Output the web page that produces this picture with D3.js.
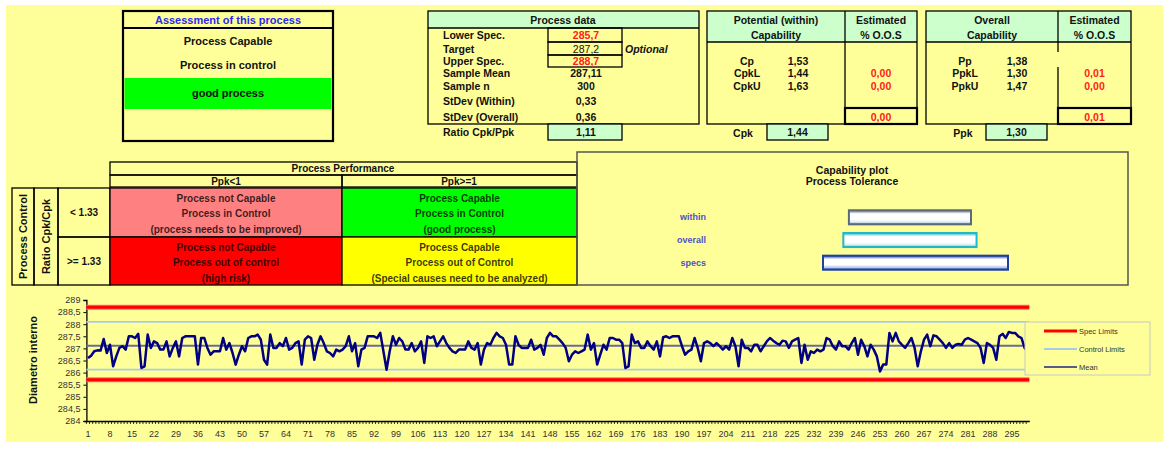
<!DOCTYPE html>
<html><head><meta charset="utf-8">
<script src="https://cdn.jsdelivr.net/npm/d3@7"></script>
<style>body{margin:0;background:#fff}svg{display:block;font-family:"Liberation Sans",Arial,sans-serif}</style>
</head><body><svg id="c" width="1169" height="450"></svg>
<script>
// ---------------- DATA ----------------
const sampleNo = d3.range(1, 301);
const diameter = [
286.60,286.70,286.88,286.92,286.91,287.39,286.81,287.15,286.26,286.67,
287.02,287.09,286.95,287.50,287.50,287.43,287.60,286.19,286.26,287.57,
287.02,287.29,287.22,286.95,286.95,287.29,286.67,287.02,287.29,286.67,
287.43,287.50,287.50,287.50,287.50,286.33,287.43,287.43,287.02,286.74,
286.88,286.88,286.88,287.43,286.95,287.22,286.81,286.33,286.74,287.09,
286.88,287.43,287.50,287.50,287.57,287.36,286.53,286.33,287.57,287.02,
287.02,287.22,287.09,287.43,286.95,287.02,287.22,287.29,286.33,287.36,
287.50,287.43,286.53,287.15,287.50,287.22,286.88,286.81,286.67,286.95,
286.88,286.95,287.09,287.50,286.88,287.22,286.26,286.95,287.02,287.50,
287.50,287.50,287.43,287.64,286.88,286.12,286.88,287.50,287.15,287.43,
287.29,286.95,286.95,287.22,286.88,287.02,287.29,286.40,287.50,287.43,
287.50,287.09,287.29,287.50,287.22,287.02,286.88,286.81,286.95,286.95,
286.95,287.29,287.02,286.95,287.22,286.33,286.95,287.22,287.15,287.43,
287.64,287.50,287.43,287.15,286.33,286.33,287.50,287.15,287.02,287.02,
287.02,287.36,286.95,287.02,287.15,286.74,287.43,287.64,287.50,287.50,
287.36,287.22,287.02,286.47,286.74,286.88,286.81,286.88,286.95,287.57,
286.95,287.22,286.33,286.74,287.15,286.95,287.43,287.43,287.36,287.36,
287.22,286.19,286.26,287.57,287.22,287.29,287.02,287.02,287.29,287.09,
286.95,287.29,286.67,287.46,287.50,287.43,287.50,287.50,287.50,287.09,
286.74,286.88,286.95,287.43,287.02,286.47,287.22,287.29,287.22,287.09,
287.22,287.09,286.95,287.09,286.95,287.43,287.09,286.26,287.36,287.02,
287.02,286.88,287.15,287.15,286.88,287.09,287.29,287.43,287.32,287.22,
287.15,287.32,287.29,287.02,287.29,287.36,287.43,286.40,287.15,286.53,
286.88,286.81,286.95,286.88,286.95,287.43,287.36,287.09,286.95,287.29,
287.09,287.09,286.95,287.22,287.43,286.74,287.36,287.09,286.67,287.15,
286.95,286.67,286.05,286.33,286.33,287.64,287.29,287.64,287.29,287.15,
287.02,287.22,287.43,287.02,286.26,286.88,287.36,287.57,287.09,287.54,
287.50,287.36,287.22,287.02,287.22,287.02,287.15,287.18,287.15,287.36,
287.43,287.36,287.29,287.22,287.02,286.40,287.22,287.15,287.02,286.53,
287.50,287.60,287.43,287.68,287.64,287.64,287.50,287.43,287.02,286.88];
const yTicks = [284, 284.5, 285, 285.5, 286, 286.5, 287, 287.5, 288, 288.5, 289];
const xTickLabels = sampleNo.filter(d => (d - 1) % 7 === 0);
const specLimits = [285.7, 288.7];
const processMean = 287.11;
const controlLimits = [286.12, 288.10];
const legendNames = ["Spec Limits", "Control Limits", "Mean"];

const assessmentTitle = "Assessment of this process";
const assessmentLines = ["Process Capable", "Process in control", "good process"];

const processLabels = ["Lower Spec.", "Target", "Upper Spec.", "Sample Mean", "Sample n", "StDev (Within)", "StDev (Overall)"];
const processValues = ["285,7", "287,2", "288,7", "287,11", "300", "0,33", "0,36"];
const ratioLabel = "Ratio Cpk/Ppk", ratioValue = "1,11";

const withinLabels = ["Cp", "CpkL", "CpkU"];
const withinValues = ["1,53", "1,44", "1,63"];
const withinOOS = ["", "0,00", "0,00"];
const withinOOSTotal = "0,00";
const cpkValue = "1,44";

const overallLabels = ["Pp", "PpkL", "PpkU"];
const overallValues = ["1,38", "1,30", "1,47"];
const overallOOS = ["", "0,01", "0,00"];
const overallOOSTotal = "0,01";
const ppkValue = "1,30";

const perfColumns = ["Ppk<1", "Ppk>=1"];
const ratioRows = ["< 1.33", ">= 1.33"];
const matrixText = [
  [["Process not Capable", "Process in Control", "(process needs to be improved)"],
   ["Process Capable", "Process in Control", "(good process)"]],
  [["Process not Capable", "Process out of control", "(high risk)"],
   ["Process Capable", "Process out of Control", "(Special causes need to be analyzed)"]]
];
const matrixColors = [["#FF8080", "#00FF00"], ["#FF0000", "#FFFF00"]];

const capLabels = ["within", "overall", "specs"];
const capLow = [286.12, 286.03, 285.7];
const capHigh = [288.10, 288.19, 288.7];
const capColors = ["#5a6a7a", "#20B8C8", "#2040A0"];

// ---------------- DRAW ----------------
const svg = d3.select("#c");
const YEL = "#FFFF99", LG = "#CCFFCC";
svg.append("rect").attr("x", 6).attr("y", 5).attr("width", 1157).attr("height", 437).attr("fill", YEL);

function txt(x, y, s, o = {}) {
  return svg.append("text").attr("x", x).attr("y", y).text(s)
    .attr("dominant-baseline", "central")
    .attr("text-anchor", o.anchor || "middle")
    .attr("font-size", o.size || 10.5)
    .attr("font-weight", o.weight || "bold")
    .attr("font-style", o.style || "normal")
    .attr("fill", o.fill || "#111");
}
function box(x, y, w, h, o = {}) {
  return svg.append("rect").attr("x", x).attr("y", y).attr("width", w).attr("height", h)
    .attr("fill", o.fill || "none").attr("stroke", o.stroke || "#000").attr("stroke-width", o.sw == null ? 1.3 : o.sw);
}
function line(x1, y1, x2, y2, sw = 1.3, c = "#000") {
  svg.append("line").attr("x1", x1).attr("y1", y1).attr("x2", x2).attr("y2", y2).attr("stroke", c).attr("stroke-width", sw);
}

// Assessment box
box(123, 11, 210, 130, {sw: 2.2});
line(123, 28, 333, 28, 2.2);
txt(228, 20, assessmentTitle, {fill: "#2A2AF0", size: 11});
svg.append("rect").attr("x", 124.5).attr("y", 78).attr("width", 207).attr("height", 31).attr("fill", "#00FF00");
txt(228, 41, assessmentLines[0], {size: 11});
txt(228, 65, assessmentLines[1], {size: 11});
txt(228, 93, assessmentLines[2], {size: 11});

// Process data
svg.append("rect").attr("x", 428).attr("y", 11).attr("width", 271).attr("height", 17).attr("fill", LG);
box(428, 11, 271, 113);
line(428, 28, 699, 28);
txt(563, 20, "Process data");
const pdY = [35, 49, 61, 73, 86, 101, 117];
box(548, 28, 74, 14); box(548, 42, 74, 13); box(548, 55, 74, 12);
processLabels.forEach((l, i) => {
  txt(443, pdY[i], l, {anchor: "start"});
  txt(586, pdY[i], processValues[i], {fill: i === 0 || i === 2 ? "#FF2020" : "#111", weight: i === 1 ? "normal" : "bold"});
});
txt(625, 49, "Optional", {anchor: "start", style: "italic"});
txt(443, 132, ratioLabel, {anchor: "start"});
box(548, 124, 74, 16, {fill: LG});
txt(586, 132, ratioValue);

// Capability tables
function capTable(x0, xd, x1, head, labels, values, oos, total, lx, vx, kLabel, kVal, klx, kbx) {
  svg.append("rect").attr("x", x0).attr("y", 11).attr("width", x1 - x0).attr("height", 31).attr("fill", LG);
  box(x0, 11, x1 - x0, 113);
  line(x0, 42, x1, 42);
  txt((x0 + xd) / 2, 20, head[0]); txt((x0 + xd) / 2, 35, head[1]);
  txt((xd + x1) / 2, 20, "Estimated"); txt((xd + x1) / 2, 35, "% O.O.S");
  const ry = [61, 73, 86];
  labels.forEach((l, i) => {
    txt(lx, ry[i], l); txt(vx, ry[i], values[i]);
    if (oos[i]) txt((xd + x1) / 2, ry[i], oos[i], {fill: "#FF2020"});
  });
  box(xd, 108, x1 - xd, 16, {sw: 2.2});
  txt((xd + x1) / 2, 117, total, {fill: "#FF2020"});
  txt(klx, 133, kLabel);
  box(kbx, 124, 61, 16, {fill: LG});
  txt(kbx + 30.5, 132, kVal);
}
capTable(707, 845, 917, ["Potential (within)", "Capability"], withinLabels, withinValues, withinOOS, withinOOSTotal, 747, 798, "Cpk", cpkValue, 743, 767);
line(845, 11, 845, 124);
capTable(926, 1058, 1131, ["Overall", "Capability"], overallLabels, overallValues, overallOOS, overallOOSTotal, 965, 1017, "Ppk", ppkValue, 963, 986);
line(1058, 11, 1058, 52); line(1058, 67, 1058, 124);

// Process Performance matrix
box(110, 162, 467, 13);
txt(343, 168.5, "Process Performance", {size: 10});
box(110, 175, 232, 12); box(342, 175, 235, 12);
txt(226, 181, perfColumns[0], {size: 10}); txt(459, 181, perfColumns[1], {size: 10});
const mRows = [188, 237], mH = [49, 48], mCols = [110, 342], mW = [232, 235];
mRows.forEach((ry, r) => {
  box(58, ry, 52, mH[r]);
  txt(84, ry + mH[r] / 2, ratioRows[r], {size: 10});
  mCols.forEach((cx, c) => {
    box(cx, ry, mW[c], mH[r], {fill: matrixColors[r][c]});
    matrixText[r][c].forEach((t, k) => txt(cx + mW[c] / 2, ry + 10 + k * 15.5, t, {size: 10, fill: "rgba(0,0,0,0.78)"}));
  });
});
box(12, 188, 22, 97); box(34, 188, 24, 97);
svg.append("text").attr("transform", "translate(23,236.5) rotate(-90)").attr("text-anchor", "middle")
  .attr("dominant-baseline", "central").attr("font-size", 11).attr("font-weight", "bold").attr("fill", "#111").text("Process Control");
svg.append("text").attr("transform", "translate(46,236.5) rotate(-90)").attr("text-anchor", "middle")
  .attr("dominant-baseline", "central").attr("font-size", 11).attr("font-weight", "bold").attr("fill", "#111").text("Ratio Cpk/Cpk");

// Capability plot
box(577, 152, 551, 133, {stroke: "#555", sw: 1.5});
txt(852, 170, "Capability plot", {size: 10.5});
txt(852, 181, "Process Tolerance", {size: 10.5});
const xCap = d3.scaleLinear().domain([specLimits[0], specLimits[1]]).range([823, 1008]);
const capY = d3.scaleBand().domain(capLabels).range([208, 272]).paddingInner(0.38).paddingOuter(0.1);
const defs = svg.append("defs");
capColors.forEach((c, i) => {
  const g = defs.append("linearGradient").attr("id", "g" + i).attr("x1", 0).attr("y1", 0).attr("x2", 0).attr("y2", 1);
  g.append("stop").attr("offset", "0%").attr("stop-color", c);
  g.append("stop").attr("offset", "25%").attr("stop-color", "#fff");
  g.append("stop").attr("offset", "65%").attr("stop-color", "#fff");
  g.append("stop").attr("offset", "85%").attr("stop-color", i === 2 ? "#AFC8F0" : "#ddeef5");
  g.append("stop").attr("offset", "100%").attr("stop-color", c);
});
capLabels.forEach((l, i) => {
  const y = capY(l), h = capY.bandwidth();
  svg.append("rect").attr("x", xCap(capLow[i])).attr("y", y).attr("width", xCap(capHigh[i]) - xCap(capLow[i])).attr("height", h)
    .attr("fill", `url(#g${i})`).attr("stroke", capColors[i]).attr("stroke-width", 2);
  txt(706, y + h / 2, l, {anchor: "end", size: 9, fill: "#5050C8"});
});

// Line chart
const x = d3.scaleBand().domain(sampleNo).range([86.4, 1029.3]);
const y = d3.scaleLinear().domain([284, 289]).range([421, 300]);
const cx = d => x(d) + x.bandwidth() / 2;
const ax = svg.append("g").attr("transform", "translate(86.4,0)")
  .call(d3.axisLeft(y).tickValues(yTicks).tickSize(3).tickFormat(d => String(d).replace(".", ",")));
ax.selectAll("text").attr("font-size", 9).attr("fill", "#333").attr("font-family", "Liberation Sans, Arial");
ax.select(".domain").attr("stroke", "#000").attr("stroke-width", 1.3);
const bx = svg.append("g").attr("transform", "translate(0,421)")
  .call(d3.axisBottom(x).tickValues(xTickLabels).tickSize(0).tickPadding(10));
bx.selectAll("text").attr("font-size", 9).attr("fill", "#333").attr("font-family", "Liberation Sans, Arial");
bx.select(".domain").attr("stroke", "#000").attr("stroke-width", 1.3);
svg.append("g").selectAll("line").data(sampleNo).join("line")
  .attr("x1", d => x(d)).attr("x2", d => x(d)).attr("y1", 421).attr("y2", 424).attr("stroke", "#000").attr("stroke-width", 0.8);

svg.append("text").attr("transform", "translate(33,360) rotate(-90)").attr("text-anchor", "middle")
  .attr("dominant-baseline", "central").attr("font-size", 11).attr("font-weight", "bold").attr("fill", "#111").text("Diametro interno");

const x0 = 86.4, x1 = 1029.3;
specLimits.forEach(v => {
  svg.append("line").attr("x1", x0).attr("x2", x1).attr("y1", y(v)).attr("y2", y(v)).attr("stroke", "#FF7070").attr("stroke-width", 5);
  svg.append("line").attr("x1", x0).attr("x2", x1).attr("y1", y(v)).attr("y2", y(v)).attr("stroke", "#FF0000").attr("stroke-width", 3);
});
controlLimits.forEach(v => svg.append("line").attr("x1", x0).attr("x2", x1).attr("y1", y(v)).attr("y2", y(v)).attr("stroke", "#A8CCE8").attr("stroke-width", 1.8));
svg.append("line").attr("x1", x0).attr("x2", x1).attr("y1", y(processMean)).attr("y2", y(processMean)).attr("stroke", "#6A6A96").attr("stroke-width", 2.2);
svg.append("path").datum(diameter).attr("fill", "none").attr("stroke", "#000080").attr("stroke-width", 2.5)
  .attr("stroke-linejoin", "round")
  .attr("d", d3.line().x((d, i) => cx(sampleNo[i])).y(d => y(d)));

// Legend
box(1025, 322, 125, 53, {stroke: "#c8c8c8", sw: 1, fill: YEL});
const legStyles = [["#FF0000", 3], ["#A8CCE8", 1.8], ["#5A5A8A", 2]];
legendNames.forEach((n, i) => {
  const ly = 331 + i * 18;
  line(1044, ly, 1077, ly, legStyles[i][1], legStyles[i][0]);
  txt(1079, ly, n, {anchor: "start", size: 7.5, weight: "normal", fill: "#333"});
});
</script></body></html>
